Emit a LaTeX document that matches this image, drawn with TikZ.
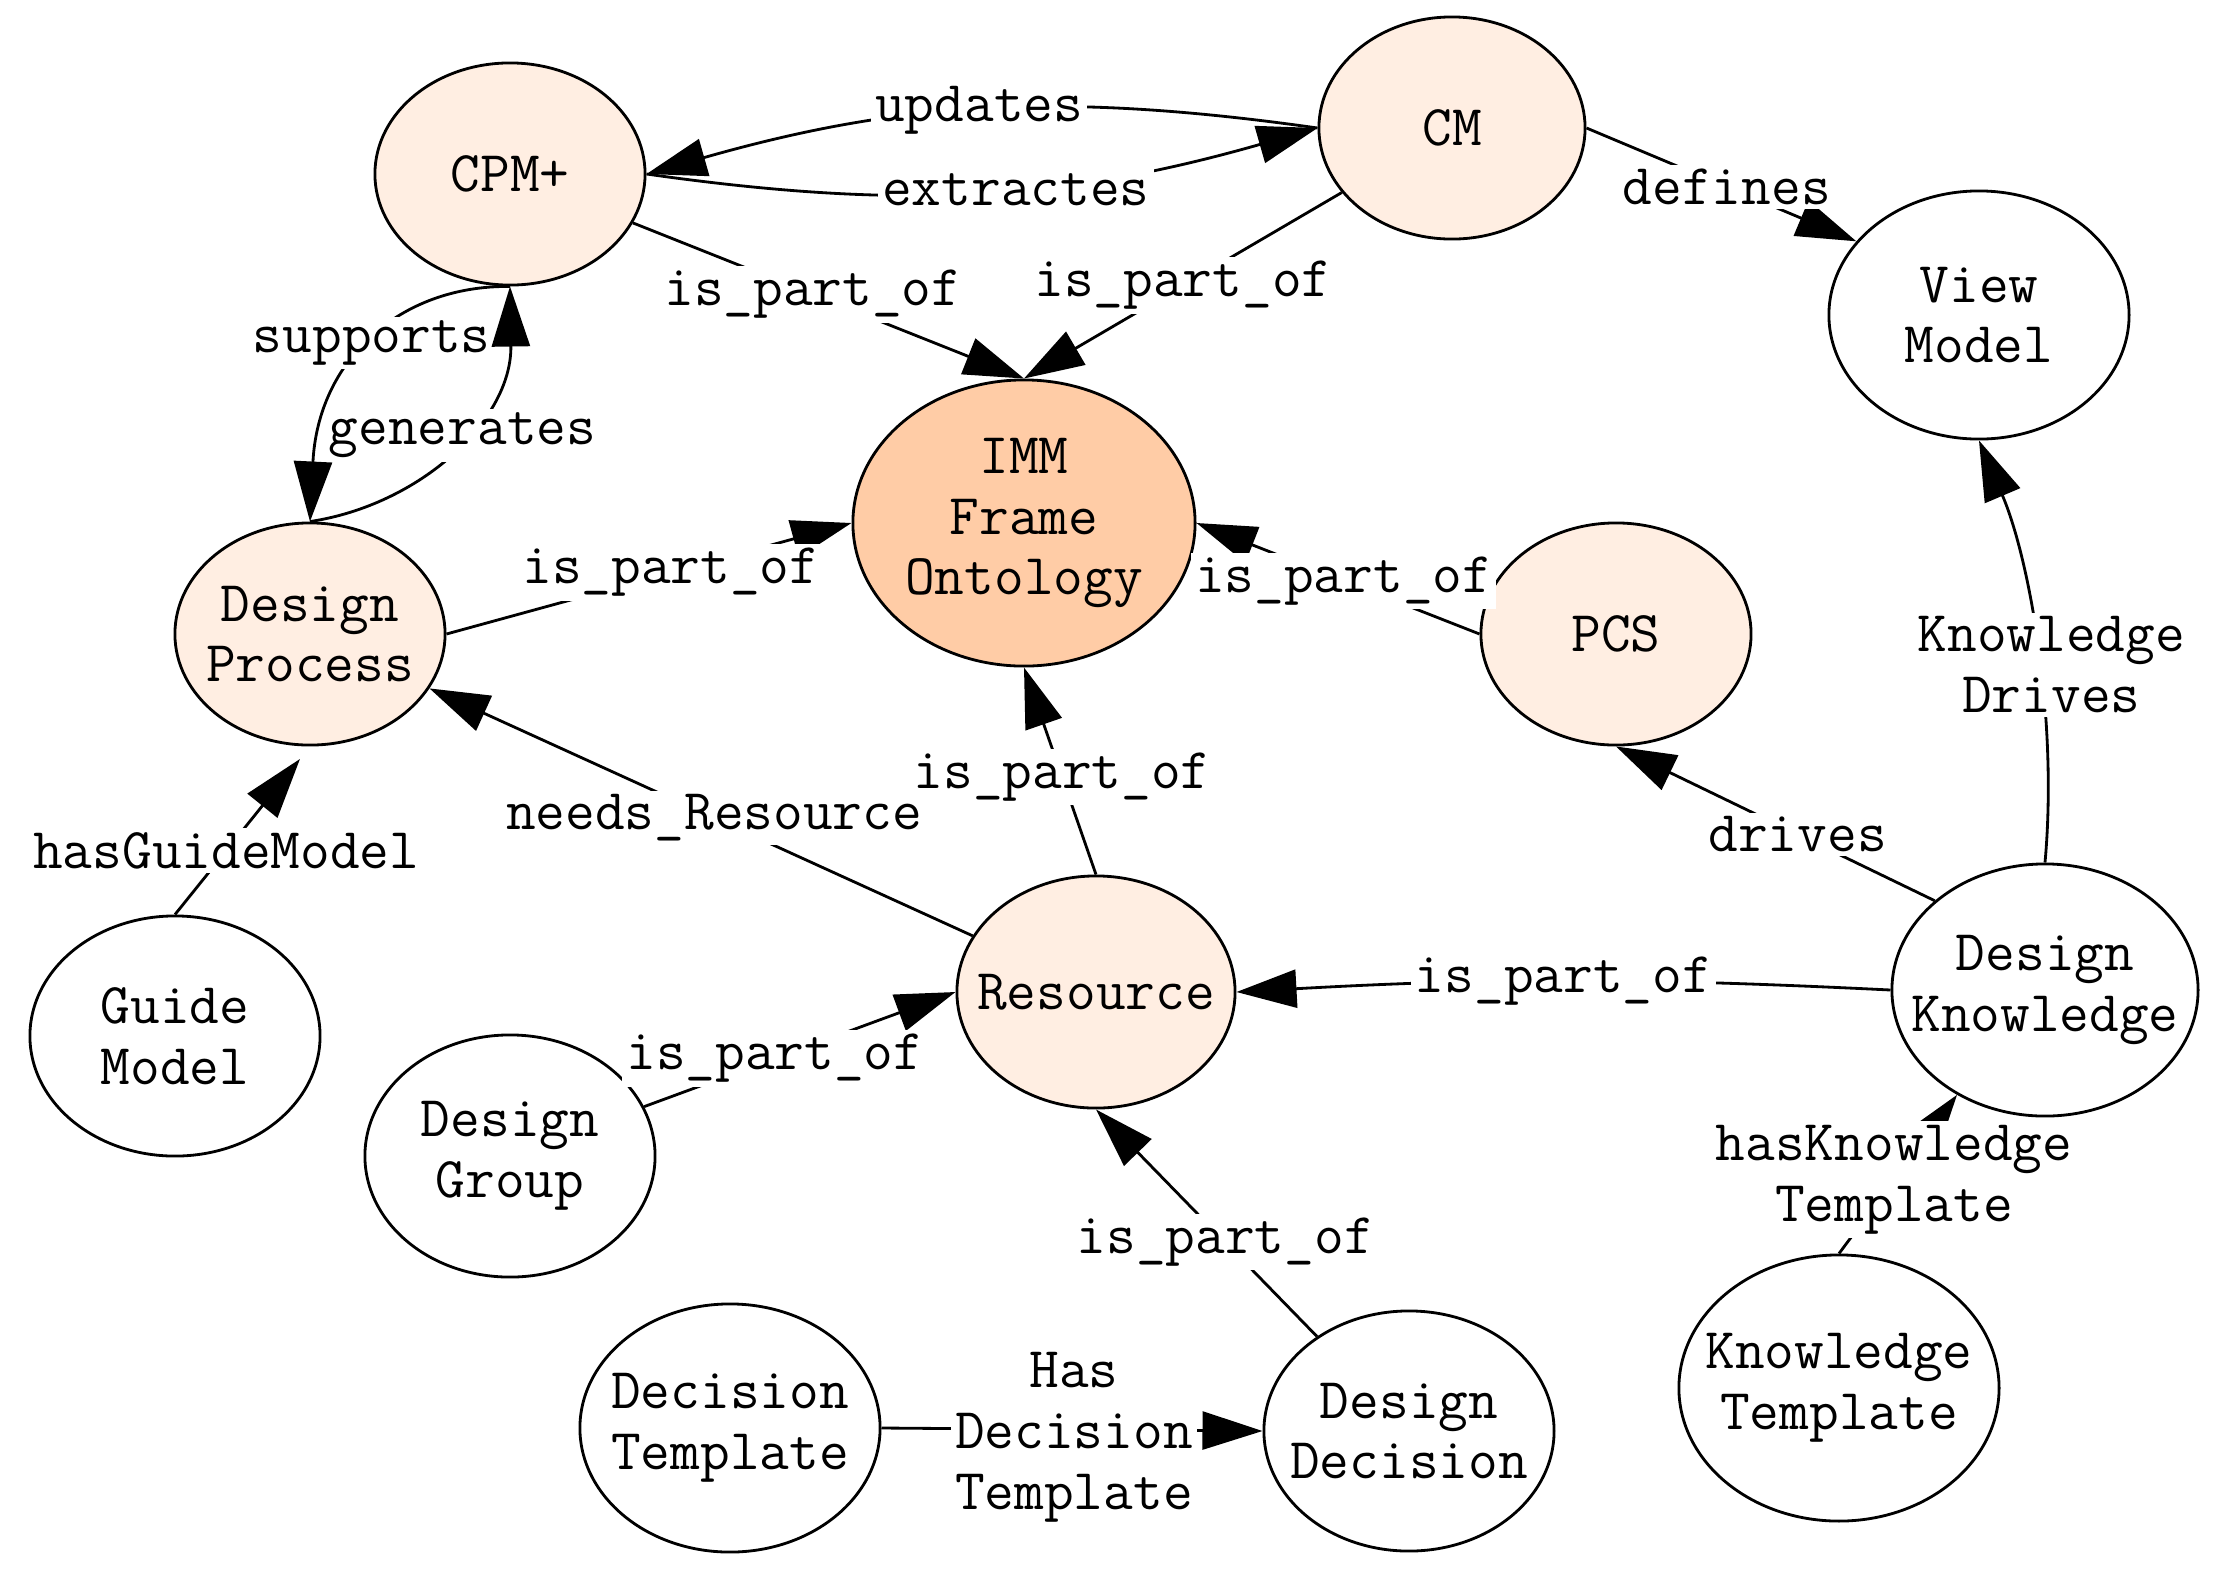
\documentclass[tikz,border=0pt]{standalone}
\usepackage{fontspec}
\usetikzlibrary{arrows.meta,shapes.geometric}
\definecolor{lightpeach}{HTML}{FFEEE2}
\definecolor{darkpeach}{HTML}{FFCCA6}
\begin{document}
\begin{tikzpicture}[x=0.01cm,y=-0.01cm,
  ent/.style={ellipse, draw=black, line width=0.8pt, inner sep=0pt, fill=white},
  txt/.style={font=\ttfamily\fontsize{16.4}{17.3}\selectfont, align=center, inner sep=0pt},
  lab/.style={font=\ttfamily\fontsize{16.4}{17.3}\selectfont, align=center, fill=white, inner sep=0.04cm},
  rel/.style={draw=black, line width=0.8pt, -{Triangle[length=0.6cm,width=0.38cm]}},
]
\useasboundingbox (0,0) rectangle (2220,1569);

% entities
\node[ent, fill=lightpeach, minimum width=2.70cm, minimum height=2.22cm, label={[txt]center:CPM+}] (cpm) at (510,174) {};
\node[ent, fill=lightpeach, minimum width=2.66cm, minimum height=2.22cm, label={[txt]center:CM}] (cm) at (1452,128) {};
\node[ent, minimum width=3.00cm, minimum height=2.48cm, label={[txt]center:View\\Model}] (vm) at (1979,315) {};
\node[ent, fill=darkpeach, minimum width=3.42cm, minimum height=2.86cm, label={[txt]center:IMM\\Frame\\Ontology}] (imm) at (1024,523) {};
\node[ent, fill=lightpeach, minimum width=2.70cm, minimum height=2.22cm, label={[txt]center:Design\\Process}] (dp) at (310,634) {};
\node[ent, fill=lightpeach, minimum width=2.70cm, minimum height=2.22cm, label={[txt]center:PCS}] (pcs) at (1616,634) {};
\node[ent, minimum width=2.90cm, minimum height=2.40cm, label={[txt]center:Guide\\Model}] (gm) at (175,1036) {};
\node[ent, minimum width=2.90cm, minimum height=2.42cm, label={[txt]center:Design\\Group}] (dg) at (510,1156) {};
\node[ent, fill=lightpeach, minimum width=2.78cm, minimum height=2.32cm, label={[txt]center:Resource}] (res) at (1096,992) {};
\node[ent, minimum width=3.00cm, minimum height=2.48cm, label={[txt]center:Decision\\Template}] (dt) at (730,1428) {};
\node[ent, minimum width=2.90cm, minimum height=2.40cm, label={[txt]center:Design\\Decision}] (dd) at (1409,1431) {};
\node[ent, minimum width=3.20cm, minimum height=2.66cm, label={[txt]center:Knowledge\\Template}] (kt) at (1839,1388) {};
\node[ent, minimum width=3.06cm, minimum height=2.52cm, label={[txt]center:Design\\Knowledge}] (dk) at (2045,990) {};

% relations
\draw[rel] (cm.west) to[bend right=12] node[lab,pos=0.5]{updates} (cpm.east);
\draw[rel] (cpm.east) to[bend right=12] node[lab,pos=0.55]{extractes} (cm.west);
\draw[rel] (cpm) -- node[lab,pos=0.46]{is\_part\_of} (imm.north);
\draw[rel] (cm) -- node[lab,pos=0.5]{is\_part\_of} (imm.north);
\draw[rel] (cm.east) -- node[lab,pos=0.52]{defines} (vm.149);
\draw[rel] (dk.north) .. controls (2058,720) and (2030,560) .. node[lab,pos=0.45,xshift=0.12cm]{Knowledge\\Drives} (vm.south);
\draw[rel] (dk.141) -- node[lab,pos=0.43]{drives} (pcs.south);
\draw[rel] (dk.west) to[bend right=3] node[lab,pos=0.5]{is\_part\_of} (res.east);
\draw[rel] (res.north) -- node[lab,pos=0.47]{is\_part\_of} (imm.south);
\draw[rel] (res) -- node[lab,pos=0.476]{needs\_Resource} (dp);
\draw[rel] (dp.east) -- node[lab,pos=0.554]{is\_part\_of} (imm.west);
\draw[rel] (pcs.west) -- node[lab,pos=0.48]{is\_part\_of} (imm.east);
\draw[rel] (cpm.south) .. controls (400,285) and (318,360) .. node[lab,pos=0.5]{supports} (dp.north);
\draw[rel] (dp.north) .. controls (420,505) and (512,420) .. node[lab,pos=0.55]{generates} (cpm.south);
\draw[rel, shorten >=0.16cm] (gm.north) -- node[lab,pos=0.38]{hasGuideModel} (dp.south);
\draw[rel] (kt.north) -- node[lab,pos=0.466]{hasKnowledge\\Template} (dk.230);
\draw[rel] (dg) -- node[lab,pos=0.42]{is\_part\_of} (res.west);
\draw[rel] (dd) -- node[lab,pos=0.415]{is\_part\_of} (res.south);
\draw[rel] (dt.east) -- node[lab,pos=0.505,yshift=-0.08cm]{Has\\Decision\\Template} (dd.west);
\end{tikzpicture}
\end{document}
